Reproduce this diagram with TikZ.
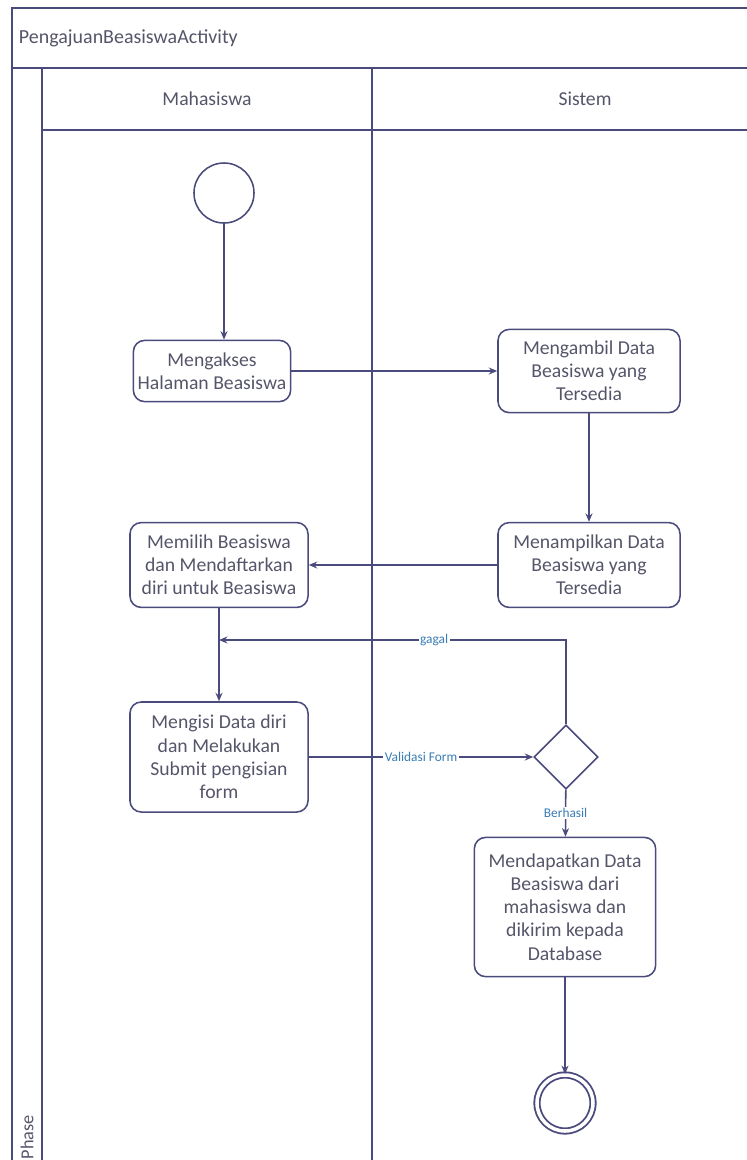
\documentclass[tikz,border=0pt]{standalone}
\usepackage{fontspec}
\setmainfont{Carlito}
\usetikzlibrary{shapes.geometric, arrows.meta, positioning, calc}

\definecolor{lineclr}{HTML}{4A4A7C}
\definecolor{textclr}{HTML}{55556A}
\definecolor{lblclr}{HTML}{3A7DB5}

\begin{document}
\begin{tikzpicture}[
        x=0.025cm, y=-0.025cm,
        lane/.style={draw=lineclr, line width=1.2pt},
        act/.style={rectangle, draw=lineclr, line width=1.1pt, rounded corners=8pt, align=center, text=textclr, font=\fontsize{14}{16.5}\selectfont, inner sep=2pt},
        initial/.style={circle, draw=lineclr, line width=1.1pt, minimum size=1.5cm},
        final/.style={circle, draw=lineclr, line width=1.3pt, double, double distance=2.5pt, minimum size=1.4cm},
        decision/.style={diamond, draw=lineclr, line width=1.1pt, minimum size=1.6cm, inner sep=0pt},
        arrow/.style={-{Stealth[length=6pt, width=5pt]}, draw=lineclr, line width=1.1pt},
        lbl/.style={fill=white, text=lblclr, font=\fontsize{9.5}{11}\selectfont, inner sep=1pt}
        ]
        \useasboundingbox (0,0) rectangle (747,1160);

        % swimlanes
        \draw [lane] (747,8) -- (12,8) -- (12,1160);
        \draw [lane] (12,68) -- (747,68);
        \draw [lane] (42,68) -- (42,1160);
        \draw [lane] (42,130) -- (747,130);
        \draw [lane] (372,68) -- (372,1160);
        \node (title) [anchor=west, text=textclr, font=\fontsize{14.2}{16}\selectfont] at (14,38) {PengajuanBeasiswaActivity};
        \node (mhs) [text=textclr, font=\fontsize{14}{16}\selectfont] at (207,99) {Mahasiswa};
        \node (sys) [text=textclr, font=\fontsize{14}{16}\selectfont] at (585,99) {Sistem};
        \node (phase) [anchor=west, rotate=90, text=textclr, font=\fontsize{13}{14}\selectfont, inner sep=1pt] at (27,1161) {Phase};

        \node (start) [initial] at (224,193) {};
        \node (akses) [act, minimum width=3.93cm, minimum height=1.53cm] at (212,371) {Mengakses\\Halaman Beasiswa};
        \node (ambil) [act, minimum width=4.55cm, minimum height=2.08cm] at (589,371) {Mengambil Data\\Beasiswa yang\\Tersedia};
        \node (tampil) [act, minimum width=4.55cm, minimum height=2.12cm] at (589,565) {Menampilkan Data\\Beasiswa yang\\Tersedia};
        \node (pilih) [act, minimum width=4.45cm, minimum height=2.12cm] at (219,565) {Memilih Beasiswa\\dan Mendaftarkan\\diri untuk Beasiswa};
        \node (isi) [act, minimum width=4.45cm, minimum height=2.75cm] at (219,757) {Mengisi Data diri\\dan Melakukan\\Submit pengisian\\form};
        \node (cek) [decision] at (566,757) {};
        \node (kirim) [act, minimum width=4.53cm, minimum height=3.48cm] at (565,907) {Mendapatkan Data\\Beasiswa dari\\mahasiswa dan\\dikirim kepada\\Database};
        \node (end) [final] at (565,1103) {};
        \coordinate (balik) at (pilih.south |- 0,640);

        \draw [arrow] (start) -- (start |- akses.north);
        \draw [arrow] (akses) -- (ambil);
        \draw [arrow] (ambil) -- (tampil);
        \draw [arrow] (tampil) -- (pilih);
        \draw [arrow] (pilih) -- (isi);
        \draw [arrow] (isi) -- node [lbl] {Validasi Form} (cek);
        \draw [arrow] (cek.north) |- node [lbl, pos=0.69] {gagal} (balik);
        \draw [arrow] (cek) -- node [lbl] {Berhasil} (kirim);
        \draw [arrow] (kirim) -- (end);
    \end{tikzpicture}
\end{document}
